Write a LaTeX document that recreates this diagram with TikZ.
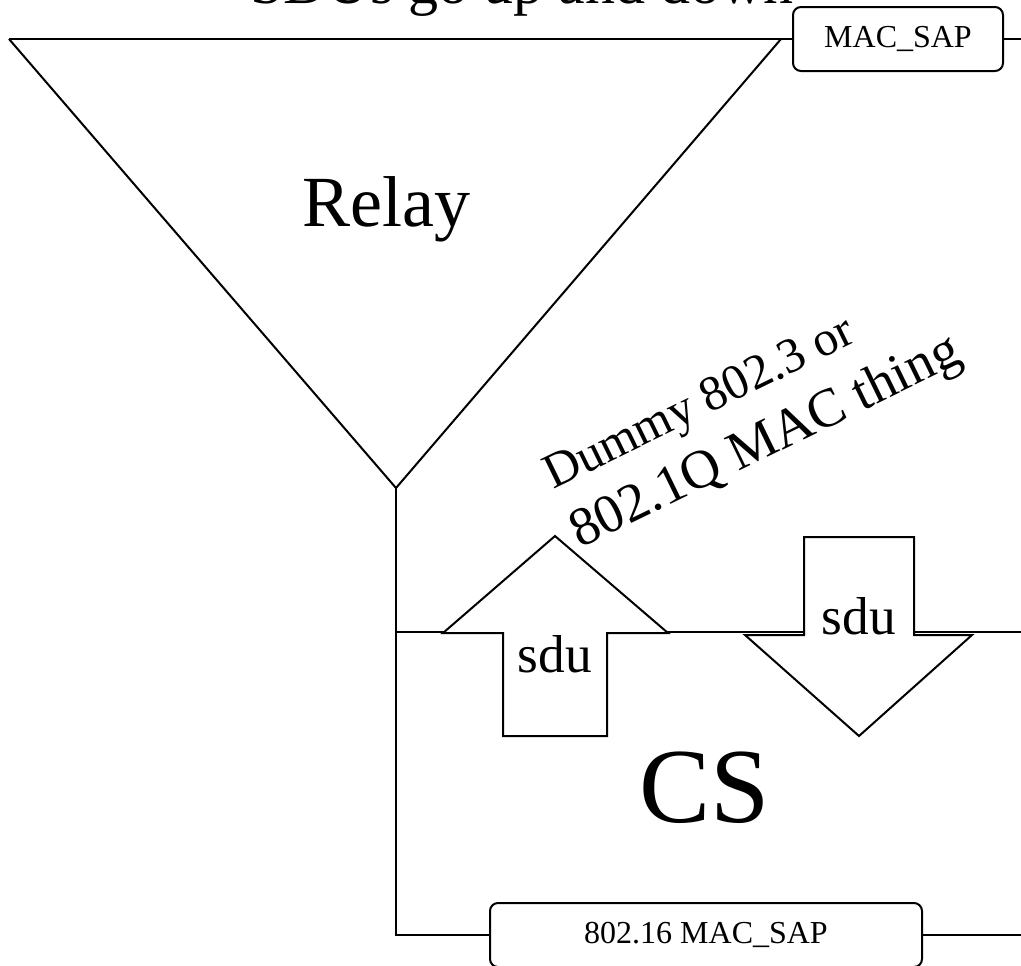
\documentclass[tikz,border=0pt]{standalone}
\usepackage{fontspec}
\setmainfont{Liberation Serif}
\tikzset{
  ln/.style={line width=1.5pt, line join=miter},
  sapbox/.style={draw, line width=1.5pt, rounded corners=6pt, fill=white,
    inner sep=0pt, minimum height=48pt, font=\fontsize{24}{28}\selectfont},
  sduarrow/.style={draw, fill=white, line width=1.5pt, line join=miter},
  lbl/.style={inner sep=0pt, anchor=base},
  slanted/.style={lbl, anchor=base west, rotate=26},
}
\begin{document}
\begin{tikzpicture}[x=0.75pt,y=-0.75pt]
\useasboundingbox (0,0) rectangle (1021,965);

% heading along the top edge
\node[lbl, anchor=base west, font=\fontsize{45}{50}\selectfont] (title) at (250,3) {SDUs go up and down};

% relay funnel and upper service access point
\coordinate (tl) at (9,39);
\coordinate (tr) at (781,39);
\coordinate (apex) at (396,488);
\node[sapbox, minimum width=157.5pt] (mac) at (898,39) {MAC\_SAP};
\coordinate (eastTop) at (1021,39);
\draw[ln] (tl) -- (apex) -- (tr);
\draw[ln] (tl) -- (mac.west);
\draw[ln] (mac.east) -- (eastTop);
\node[lbl, font=\fontsize{54}{60}\selectfont] (relay) at (386,226) {Relay};

% convergence sublayer frame
\coordinate (cross) at (396,632);
\coordinate (corner) at (396,935);
\coordinate (eastMid) at (1021,632);
\coordinate (eastBot) at (1021,935);
\node[sapbox, minimum width=324pt] (mac16) at (706,935) {802.16 MAC\_SAP};
\draw[ln] (apex) -- (corner) -- (mac16.west);
\draw[ln] (mac16.east) -- (eastBot);
\draw[ln] (cross) -- (eastMid);

% sdu arrows
\draw[sduarrow] (555,536) -- (668,633) -- (607,633) -- (607,736) -- (503,736)
  -- (503,633) -- (443,633) -- cycle;
\draw[sduarrow] (804,537) -- (914,537) -- (914,635) -- (972,635) -- (859,736)
  -- (745,635) -- (804,635) -- cycle;
\node[lbl, font=\fontsize{40}{48}\selectfont] (sduUp) at (555,672) {sdu};
\node[lbl, font=\fontsize{40}{48}\selectfont] (sduDown) at (859,634) {sdu};

% labels
\node[lbl, font=\fontsize{80}{90}\selectfont] (cs) at (705,822) {CS};
\node[slanted, font=\fontsize{37}{42}\selectfont] (dummyA) at (553,490) {Dummy 802.3 or};
\node[slanted, font=\fontsize{41}{46}\selectfont] (dummyB) at (580,549) {802.1Q MAC thing};
\end{tikzpicture}
\end{document}
